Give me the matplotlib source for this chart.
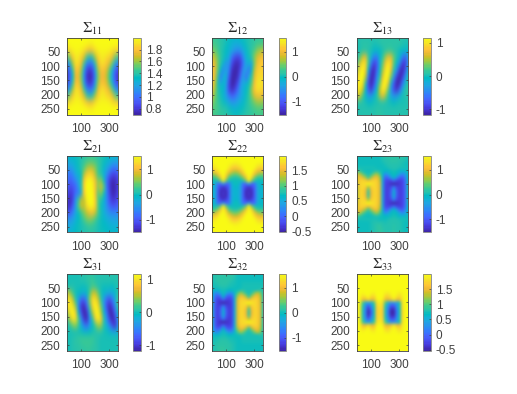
import matplotlib

matplotlib.use("Agg", force=True)

import matplotlib.pyplot as plt
import numpy as np
from matplotlib.colors import LinearSegmentedColormap

plt.rcParams["font.family"] = ["Liberation Sans", "DejaVu Sans"]
plt.rcParams["mathtext.fontset"] = "stix"

WIDTH, HEIGHT = 517, 394

# columns are sampled every 20 along x (0..360), rows evenly along y (0..270)
x_ticks = [100, 300]
y_ticks = [50, 100, 150, 200, 250]

sigma_11 = [
    [2.0, 2.0, 2.0, 2.0, 2.0, 2.0, 2.0, 2.0, 2.0, 2.0, 2.0, 2.0, 2.0, 2.0, 2.0, 2.0, 2.0, 2.0, 2.0],
    [1.97, 2.0, 2.0, 2.0, 2.0, 2.0, 2.0, 1.97, 1.95, 1.95, 1.98, 2.0, 2.0, 2.0, 2.0, 2.0, 2.0, 1.98, 1.97],
    [1.8, 1.88, 1.95, 1.97, 1.97, 1.95, 1.88, 1.8, 1.75, 1.78, 1.88, 1.95, 1.97, 1.97, 1.97, 1.95, 1.88, 1.85, 1.8],
    [1.45, 1.6, 1.8, 1.93, 1.93, 1.85, 1.7, 1.45, 1.35, 1.4, 1.65, 1.85, 1.93, 1.93, 1.88, 1.85, 1.75, 1.55, 1.45],
    [1.05, 1.25, 1.6, 1.88, 1.88, 1.75, 1.45, 1.1, 1.0, 1.05, 1.4, 1.75, 1.88, 1.88, 1.8, 1.7, 1.5, 1.2, 1.05],
    [0.85, 1.0, 1.4, 1.78, 1.78, 1.6, 1.2, 0.85, 0.78, 0.85, 1.2, 1.6, 1.78, 1.78, 1.7, 1.5, 1.25, 0.95, 0.85],
    [0.78, 0.95, 1.3, 1.72, 1.75, 1.55, 1.1, 0.8, 0.72, 0.8, 1.1, 1.55, 1.75, 1.75, 1.65, 1.45, 1.15, 0.9, 0.78],
    [0.85, 1.0, 1.4, 1.78, 1.78, 1.6, 1.2, 0.85, 0.78, 0.85, 1.2, 1.6, 1.78, 1.78, 1.7, 1.5, 1.25, 0.95, 0.85],
    [1.05, 1.25, 1.6, 1.88, 1.88, 1.75, 1.45, 1.1, 1.0, 1.05, 1.4, 1.75, 1.88, 1.88, 1.8, 1.7, 1.5, 1.2, 1.05],
    [1.45, 1.6, 1.8, 1.93, 1.93, 1.85, 1.7, 1.45, 1.35, 1.4, 1.65, 1.85, 1.93, 1.93, 1.88, 1.85, 1.75, 1.55, 1.45],
    [1.8, 1.88, 1.95, 1.97, 1.97, 1.95, 1.88, 1.8, 1.75, 1.78, 1.88, 1.95, 1.97, 1.97, 1.97, 1.95, 1.88, 1.85, 1.8],
    [1.97, 2.0, 2.0, 2.0, 2.0, 2.0, 2.0, 1.97, 1.95, 1.95, 1.98, 2.0, 2.0, 2.0, 2.0, 2.0, 2.0, 1.98, 1.97],
    [2.0, 2.0, 2.0, 2.0, 2.0, 2.0, 2.0, 2.0, 2.0, 2.0, 2.0, 2.0, 2.0, 2.0, 2.0, 2.0, 2.0, 2.0, 2.0],
]
sigma_12 = [
    [0.25, 0.25, 0.2, 0.15, 0.1, 0.05, 0, -0.05, -0.1, -0.1, -0.05, 0, 0.05, 0.1, 0.15, 0.2, 0.2, 0.25, 0.25],
    [0.3, 0.3, 0.25, 0.15, 0.1, 0, -0.1, -0.2, -0.25, -0.25, -0.2, -0.1, 0, 0.1, 0.15, 0.2, 0.3, 0.3, 0.35],
    [0.55, 0.45, 0.3, 0.15, 0.02, -0.05, -0.15, -0.3, -0.5, -0.6, -0.55, -0.3, -0.1, 0.05, 0.2, 0.35, 0.55, 0.65, 0.75],
    [0.85, 0.7, 0.45, 0.2, 0.02, -0.1, -0.3, -0.8, -1.1, -1.2, -1.1, -0.6, -0.2, 0, 0.2, 0.55, 0.85, 1.0, 1.05],
    [1.05, 0.9, 0.5, 0.15, -0.15, -0.55, -0.5, -1.1, -1.4, -1.45, -1.3, -0.8, -0.3, -0.2, -0.35, 0.5, 1.0, 1.15, 1.15],
    [1.15, 0.95, 0.45, -0.05, -0.65, -0.35, -0.7, -1.35, -1.5, -1.45, -1.15, -0.5, -0.35, -0.8, -0.1, 0.75, 1.15, 1.25, 1.2],
    [1.2, 0.9, 0.25, -0.75, -0.3, -0.15, -0.95, -1.45, -1.5, -1.4, -0.9, -0.35, -0.85, -0.3, 0.2, 0.9, 1.25, 1.3, 1.25],
    [1.15, 0.75, 0.05, -0.3, -0.1, -0.4, -1.15, -1.5, -1.45, -1.15, -0.6, -0.3, -0.2, 0, 0.4, 1.05, 1.35, 1.4, 1.3],
    [1.0, 0.6, 0.15, 0, -0.1, -0.5, -1.15, -1.4, -1.25, -0.85, -0.45, -0.2, -0.05, 0.15, 0.6, 1.1, 1.35, 1.3, 1.2],
    [0.8, 0.5, 0.2, 0.05, -0.15, -0.4, -0.75, -0.9, -0.8, -0.6, -0.4, -0.2, 0, 0.2, 0.5, 0.85, 1.0, 1.0, 0.95],
    [0.55, 0.4, 0.25, 0.1, 0, -0.15, -0.3, -0.45, -0.45, -0.35, -0.2, -0.1, 0.05, 0.2, 0.35, 0.5, 0.6, 0.6, 0.55],
    [0.4, 0.35, 0.3, 0.2, 0.15, 0.1, 0, -0.1, -0.15, -0.1, -0.05, 0, 0.1, 0.15, 0.25, 0.3, 0.35, 0.35, 0.35],
    [0.3, 0.3, 0.25, 0.2, 0.2, 0.15, 0.1, 0.05, 0, 0, 0.05, 0.1, 0.15, 0.2, 0.2, 0.25, 0.3, 0.3, 0.3],
]
sigma_13 = [
    [0.05, 0.05, 0.05, 0.05, 0.05, 0.05, 0.05, 0.1, 0.1, 0.1, 0.1, 0.1, 0.1, 0.1, 0.1, 0.1, 0.05, 0.05, 0.05],
    [0, 0.05, 0.1, 0.1, 0.1, 0.05, 0, 0, 0.05, 0.1, 0.1, 0.1, 0.1, 0.1, 0.1, 0.1, 0.05, 0, 0],
    [0, 0.02, 0.1, 0.1, 0.05, 0, -0.05, -0.1, -0.05, 0.02, 0.1, 0.15, 0.15, 0.1, 0.05, -0.02, -0.05, -0.1, -0.05],
    [0, 0.25, 0.6, 0.7, 0.2, -0.15, -0.5, -0.55, -0.1, 0.1, 0.45, 0.7, 0.65, 0.3, 0.05, -0.1, -0.5, -0.75, -0.4],
    [0.2, 0.65, 1.0, 0.95, 0.2, -0.55, -0.95, -0.8, -0.2, 0.25, 0.75, 1.05, 0.85, 0.25, -0.05, -0.45, -0.95, -1.0, -0.4],
    [0.45, 0.95, 1.15, 0.85, -0.1, -0.95, -1.1, -0.7, -0.1, 0.4, 0.95, 1.15, 0.7, 0.05, -0.4, -0.95, -1.15, -0.85, -0.2],
    [0.75, 1.1, 1.15, 0.55, -0.55, -1.1, -1.05, -0.5, 0, 0.65, 1.1, 1.05, 0.35, -0.3, -0.9, -1.15, -1.0, -0.5, 0],
    [0.95, 1.15, 0.95, 0.1, -0.85, -1.15, -0.9, -0.3, 0.25, 0.95, 1.15, 0.75, -0.1, -0.75, -1.15, -1.1, -0.65, -0.15, 0.1],
    [0.95, 1.05, 0.6, -0.1, -0.75, -1.0, -0.55, -0.05, 0.55, 1.05, 0.95, 0.3, -0.4, -0.9, -1.05, -0.75, -0.25, 0.05, 0.15],
    [0.6, 0.6, 0.2, -0.1, -0.35, -0.35, -0.1, 0.1, 0.45, 0.7, 0.45, 0.05, -0.25, -0.4, -0.35, -0.15, 0, 0.05, 0.1],
    [0.1, 0.1, 0.05, 0, -0.05, -0.05, 0, 0.02, 0.05, 0.1, 0.05, 0, -0.02, -0.05, -0.02, 0, 0, 0.03, 0.05],
    [0, 0.05, 0.05, 0.05, 0.05, 0.05, 0.05, 0.1, 0.1, 0.05, 0.05, 0.05, 0.05, 0.05, 0.05, 0.05, 0.05, 0.05, 0.05],
    [0.05, 0.05, 0.05, 0.05, 0.05, 0.05, 0.05, 0.1, 0.1, 0.1, 0.05, 0.05, 0.05, 0.05, 0.05, 0.05, 0.05, 0.05, 0.05],
]
sigma_21 = [
    [-0.1, -0.1, -0.05, 0, 0.05, 0.1, 0.15, 0.2, 0.25, 0.25, 0.2, 0.15, 0.1, 0.05, 0, -0.05, -0.1, -0.15, -0.1],
    [-0.25, -0.2, -0.15, -0.1, 0, 0.1, 0.2, 0.3, 0.35, 0.35, 0.3, 0.2, 0.1, 0, -0.1, -0.2, -0.3, -0.35, -0.3],
    [-0.5, -0.45, -0.35, -0.15, 0, 0.15, 0.35, 0.6, 0.75, 0.7, 0.5, 0.25, 0.1, -0.1, -0.3, -0.5, -0.7, -0.75, -0.65],
    [-0.7, -0.75, -0.6, -0.3, -0.15, 0, 0.65, 1.1, 1.25, 1.1, 0.65, 0.25, 0.1, -0.2, -0.55, -0.95, -1.15, -1.2, -1.0],
    [-0.75, -0.95, -0.8, -0.6, -0.35, 0.05, 1.1, 1.45, 1.52, 1.4, 1.0, 0.5, 0.55, 0, -0.8, -1.25, -1.45, -1.4, -1.2],
    [-0.9, -1.15, -1.05, -0.9, -0.5, 0.1, 1.2, 1.5, 1.54, 1.48, 1.05, 0.5, 0.85, 0.4, -0.7, -1.25, -1.5, -1.45, -1.2],
    [-1.05, -1.3, -1.2, -0.8, -0.7, -0.3, 1.1, 1.48, 1.54, 1.5, 1.05, 0.35, 0.5, 0, -0.6, -1.15, -1.45, -1.4, -1.15],
    [-1.25, -1.45, -1.2, -0.5, 0.2, 0.75, 0.7, 1.4, 1.54, 1.52, 1.15, 0.35, 0.1, -0.15, -0.6, -1.05, -1.3, -1.25, -1.05],
    [-1.3, -1.35, -0.95, -0.45, 0.35, 0.8, 0.75, 1.25, 1.45, 1.45, 1.15, 0.35, 0, -0.2, -0.55, -0.85, -1.0, -1.0, -0.9],
    [-1.05, -0.95, -0.65, -0.3, -0.05, 0.25, 0.5, 0.75, 0.95, 1.0, 0.75, 0.3, 0.05, -0.2, -0.4, -0.55, -0.6, -0.6, -0.6],
    [-0.55, -0.5, -0.4, -0.2, -0.05, 0.1, 0.3, 0.45, 0.5, 0.45, 0.3, 0.1, 0, -0.1, -0.2, -0.3, -0.35, -0.35, -0.35],
    [-0.3, -0.3, -0.2, -0.1, 0, 0.05, 0.1, 0.2, 0.25, 0.2, 0.15, 0.05, 0, -0.05, -0.1, -0.15, -0.2, -0.2, -0.2],
    [-0.15, -0.15, -0.1, -0.05, 0, 0.05, 0.1, 0.1, 0.15, 0.15, 0.1, 0.05, 0, 0, -0.05, -0.1, -0.1, -0.1, -0.1],
]
sigma_22 = [
    [2.0, 2.0, 2.0, 2.0, 2.0, 2.0, 2.0, 2.0, 2.0, 2.0, 2.0, 2.0, 2.0, 2.0, 2.0, 2.0, 2.0, 2.0, 2.0],
    [2.0, 2.0, 2.0, 2.0, 2.0, 2.0, 2.0, 2.0, 2.0, 2.0, 2.0, 2.0, 2.0, 2.0, 2.0, 2.0, 2.0, 2.0, 2.0],
    [1.97, 2.0, 2.0, 2.0, 2.0, 2.0, 2.0, 1.97, 1.95, 1.95, 1.97, 2.0, 2.0, 2.0, 2.0, 2.0, 1.97, 1.97, 1.97],
    [1.9, 1.95, 2.0, 2.0, 2.0, 2.0, 1.95, 1.88, 1.82, 1.85, 1.92, 2.0, 2.0, 2.0, 2.0, 1.97, 1.9, 1.88, 1.88],
    [1.75, 1.85, 1.95, 2.0, 2.0, 1.97, 1.85, 1.7, 1.62, 1.65, 1.8, 1.95, 2.0, 2.0, 2.0, 1.93, 1.78, 1.72, 1.72],
    [1.5, 1.65, 1.8, 1.97, 2.0, 1.92, 1.65, 1.45, 1.35, 1.4, 1.55, 1.8, 1.97, 2.0, 1.97, 1.8, 1.55, 1.45, 1.45],
    [1.2, 1.3, 1.55, 1.85, 2.0, 1.8, 1.35, 1.15, 1.05, 1.1, 1.25, 1.55, 1.85, 2.0, 1.9, 1.55, 1.25, 1.15, 1.15],
    [0.85, 0.95, 1.15, 1.6, 2.0, 1.55, 1.0, 0.85, 0.8, 0.82, 0.95, 1.2, 1.6, 2.0, 1.7, 1.15, 0.9, 0.85, 0.85],
    [0.7, 0.75, 0.8, 1.05, 1.85, 1.05, 0.75, 0.7, 0.7, 0.7, 0.72, 0.8, 1.1, 1.9, 1.15, 0.8, 0.7, 0.7, 0.7],
    [0.65, 0.6, 0.05, 0, 0.3, 0, 0.05, 0.55, 0.7, 0.7, 0.5, 0.05, 0, 0.4, 0, 0.05, 0.5, 0.65, 0.65],
    [0.65, 0.55, -0.05, -0.3, -0.4, -0.3, -0.05, 0.5, 0.65, 0.65, 0.45, -0.05, -0.3, -0.4, -0.3, -0.05, 0.45, 0.65, 0.65],
    [0.6, 0.55, -0.1, -0.45, -0.45, -0.45, -0.1, 0.5, 0.6, 0.6, 0.45, -0.1, -0.45, -0.45, -0.45, -0.1, 0.45, 0.6, 0.6],
    [0.6, 0.55, -0.1, -0.5, -0.35, -0.5, -0.1, 0.5, 0.6, 0.6, 0.45, -0.1, -0.5, -0.35, -0.5, -0.1, 0.45, 0.6, 0.6],
    [0.6, 0.55, -0.1, -0.45, -0.45, -0.45, -0.1, 0.5, 0.6, 0.6, 0.45, -0.1, -0.45, -0.45, -0.45, -0.1, 0.45, 0.6, 0.6],
    [0.65, 0.55, -0.05, -0.3, -0.4, -0.3, -0.05, 0.5, 0.65, 0.65, 0.45, -0.05, -0.3, -0.4, -0.3, -0.05, 0.45, 0.65, 0.65],
    [0.65, 0.6, 0.05, 0, 0.3, 0, 0.05, 0.55, 0.7, 0.7, 0.5, 0.05, 0, 0.4, 0, 0.05, 0.5, 0.65, 0.65],
    [0.7, 0.75, 0.8, 1.05, 1.85, 1.05, 0.75, 0.7, 0.7, 0.7, 0.72, 0.8, 1.1, 1.9, 1.15, 0.8, 0.7, 0.7, 0.7],
    [0.85, 0.95, 1.15, 1.6, 2.0, 1.55, 1.0, 0.85, 0.8, 0.82, 0.95, 1.2, 1.6, 2.0, 1.7, 1.15, 0.9, 0.85, 0.85],
    [1.2, 1.3, 1.55, 1.85, 2.0, 1.8, 1.35, 1.15, 1.05, 1.1, 1.25, 1.55, 1.85, 2.0, 1.9, 1.55, 1.25, 1.15, 1.15],
    [1.5, 1.65, 1.8, 1.97, 2.0, 1.92, 1.65, 1.45, 1.35, 1.4, 1.55, 1.8, 1.97, 2.0, 1.97, 1.8, 1.55, 1.45, 1.45],
    [1.75, 1.85, 1.95, 2.0, 2.0, 1.97, 1.85, 1.7, 1.62, 1.65, 1.8, 1.95, 2.0, 2.0, 2.0, 1.93, 1.78, 1.72, 1.72],
    [1.9, 1.95, 2.0, 2.0, 2.0, 2.0, 1.95, 1.88, 1.82, 1.85, 1.92, 2.0, 2.0, 2.0, 2.0, 1.97, 1.9, 1.88, 1.88],
    [1.97, 2.0, 2.0, 2.0, 2.0, 2.0, 2.0, 1.97, 1.95, 1.95, 1.97, 2.0, 2.0, 2.0, 2.0, 2.0, 1.97, 1.97, 1.97],
    [2.0, 2.0, 2.0, 2.0, 2.0, 2.0, 2.0, 2.0, 2.0, 2.0, 2.0, 2.0, 2.0, 2.0, 2.0, 2.0, 2.0, 2.0, 2.0],
    [2.0, 2.0, 2.0, 2.0, 2.0, 2.0, 2.0, 2.0, 2.0, 2.0, 2.0, 2.0, 2.0, 2.0, 2.0, 2.0, 2.0, 2.0, 2.0],
]
sigma_23 = [
    [0, 0, 0, 0, 0, 0, 0, 0, 0, 0.1, 0.15, 0.15, 0.15, 0.15, 0.15, 0.15, 0.15, 0.1, 0.05],
    [0, 0, 0, 0, 0, 0, 0, 0, 0, 0.08, 0.12, 0.15, 0.15, 0.15, 0.15, 0.15, 0.12, 0.08, 0.03],
    [0, 0, 0, 0, 0, 0, 0, 0, 0, 0.05, 0.1, 0.12, 0.15, 0.15, 0.15, 0.12, 0.1, 0.05, 0],
    [0.02, 0.02, 0.02, 0.02, 0.02, 0.02, 0.02, 0, 0, 0.02, 0.05, 0.1, 0.12, 0.12, 0.12, 0.1, 0.05, 0.02, 0],
    [0.05, 0.05, 0.05, 0.05, 0.05, 0.05, 0.05, 0, -0.02, 0, 0.02, 0.05, 0.1, 0.1, 0.1, 0.05, 0.03, 0.03, 0],
    [0.25, 0.2, 0.05, 0.02, 0.02, 0.02, 0.05, 0.1, 0.05, 0, -0.05, -0.1, -0.02, 0.05, -0.02, -0.1, -0.15, -0.1, 0],
    [0.8, 0.8, 0.45, 0.15, 0.05, 0.15, 0.5, 0.7, 0.35, -0.1, -0.6, -0.35, -0.05, 0, -0.05, -0.35, -0.65, -0.45, -0.05],
    [0.9, 1.05, 0.9, 0.65, 0.2, 0.65, 0.95, 1.0, 0.7, -0.15, -0.95, -0.85, -0.45, -0.05, -0.5, -0.9, -1.0, -0.7, -0.05],
    [0.85, 1.2, 1.25, 1.15, 0.95, 1.15, 1.25, 1.2, 0.85, -0.25, -1.15, -1.2, -1.15, -0.85, -1.15, -1.25, -1.2, -0.85, -0.05],
    [0.8, 1.2, 1.3, 1.35, 1.55, 1.4, 1.3, 1.2, 0.9, -0.3, -1.2, -1.25, -1.4, -1.53, -1.4, -1.3, -1.2, -0.9, 0],
    [0.75, 1.2, 1.3, 1.15, 0.7, 1.15, 1.3, 1.2, 0.9, -0.3, -1.2, -1.25, -1.15, -0.75, -1.15, -1.25, -1.2, -0.9, 0],
    [0.7, 1.2, 1.25, 1.0, 0.25, 1.0, 1.25, 1.2, 0.9, -0.3, -1.2, -1.25, -1.0, -0.2, -1.0, -1.25, -1.2, -0.9, 0],
    [0.7, 1.2, 1.25, 0.95, 0.15, 0.95, 1.25, 1.2, 0.9, -0.3, -1.2, -1.25, -0.95, -0.1, -0.95, -1.25, -1.2, -0.9, 0],
    [0.7, 1.2, 1.25, 1.0, 0.25, 1.0, 1.25, 1.2, 0.9, -0.3, -1.2, -1.25, -1.0, -0.2, -1.0, -1.25, -1.2, -0.9, 0],
    [0.75, 1.2, 1.3, 1.15, 0.7, 1.15, 1.3, 1.2, 0.9, -0.3, -1.2, -1.25, -1.15, -0.75, -1.15, -1.25, -1.2, -0.9, 0],
    [0.8, 1.2, 1.3, 1.35, 1.55, 1.4, 1.3, 1.2, 0.9, -0.3, -1.2, -1.25, -1.4, -1.53, -1.4, -1.3, -1.2, -0.9, 0],
    [0.85, 1.2, 1.25, 1.15, 0.95, 1.15, 1.25, 1.2, 0.85, -0.25, -1.15, -1.2, -1.15, -0.85, -1.15, -1.25, -1.2, -0.85, -0.05],
    [0.9, 1.05, 0.9, 0.65, 0.2, 0.65, 0.95, 1.0, 0.7, -0.15, -0.95, -0.85, -0.45, -0.05, -0.5, -0.9, -1.0, -0.7, -0.05],
    [0.8, 0.8, 0.45, 0.15, 0.05, 0.15, 0.5, 0.7, 0.35, -0.1, -0.6, -0.35, -0.05, 0, -0.05, -0.35, -0.65, -0.45, -0.05],
    [0.25, 0.2, 0.05, 0.02, 0.02, 0.02, 0.05, 0.1, 0.05, 0, -0.05, -0.1, -0.02, 0.05, -0.02, -0.1, -0.15, -0.1, 0],
    [0.05, 0.05, 0.05, 0.05, 0.05, 0.05, 0.05, 0.03, 0, 0, 0.02, 0.05, 0.1, 0.1, 0.1, 0.05, 0.03, 0.03, 0],
    [0.02, 0.02, 0.02, 0.02, 0.02, 0.05, 0.08, 0.1, 0.12, 0.08, 0.05, 0.08, 0.12, 0.12, 0.12, 0.08, 0.05, 0.02, 0],
    [0, 0, 0, 0, 0, 0.05, 0.1, 0.15, 0.18, 0.12, 0.08, 0.1, 0.12, 0.15, 0.12, 0.1, 0.05, 0, 0],
    [0, 0, 0, 0, 0, 0.05, 0.1, 0.15, 0.2, 0.15, 0.1, 0.1, 0.12, 0.15, 0.12, 0.1, 0.05, 0, 0],
    [0, 0, 0, 0, 0, 0.05, 0.1, 0.15, 0.2, 0.15, 0.1, 0.1, 0.12, 0.15, 0.12, 0.1, 0.05, 0, 0],
]
sigma_31 = [
    [0, 0, 0, 0, 0.02, 0.05, 0.05, 0.08, 0.1, 0.1, 0.05, 0.05, 0.05, 0.05, 0.05, 0.05, 0.05, 0.05, 0.05],
    [0, 0, 0, 0.02, 0.02, 0.05, 0.05, 0.08, 0.12, 0.15, 0.1, 0.05, 0.05, 0.05, 0.05, 0.05, 0.05, 0.05, 0.05],
    [0.02, 0.02, 0.05, 0.02, 0, -0.02, -0.02, 0, 0.1, 0.2, 0.15, 0.05, 0, -0.02, -0.02, -0.02, -0.05, 0, 0.02],
    [0.65, 0.5, 0.2, 0, -0.05, -0.1, -0.15, -0.05, 0.25, 0.6, 0.6, 0.3, 0, -0.1, -0.15, -0.25, -0.2, -0.1, 0.1],
    [1.0, 1.0, 0.6, 0.1, -0.3, -0.7, -0.75, -0.4, 0.4, 0.95, 1.0, 0.6, 0.1, -0.35, -0.7, -0.85, -0.6, -0.2, 0.2],
    [0.85, 1.1, 1.0, 0.4, -0.4, -1.0, -1.1, -0.7, 0.2, 0.85, 1.15, 0.9, 0.3, -0.3, -0.85, -1.1, -0.9, -0.4, 0.15],
    [0.45, 0.95, 1.15, 0.85, -0.05, -0.85, -1.15, -1.05, -0.2, 0.5, 1.05, 1.1, 0.5, -0.1, -0.6, -1.1, -1.1, -0.7, -0.05],
    [0.1, 0.55, 1.0, 1.0, 0.3, -0.45, -1.0, -1.1, -0.5, 0.1, 0.8, 1.1, 0.8, 0.1, -0.4, -0.9, -1.15, -0.95, -0.3],
    [0, 0.1, 0.3, 0.4, 0.15, -0.15, -0.5, -0.65, -0.35, -0.05, 0.2, 0.45, 0.4, 0.05, -0.15, -0.5, -0.85, -1.05, -0.45],
    [0, 0, 0.03, 0.03, 0, -0.03, -0.08, -0.1, -0.05, 0, 0.05, 0.1, 0.1, 0.03, -0.02, -0.1, -0.2, -0.25, -0.1],
    [0, 0.02, 0.05, 0.1, 0.12, 0.15, 0.15, 0.18, 0.18, 0.15, 0.1, 0.05, 0.03, 0.02, 0, 0, 0, 0, 0],
    [0, 0.02, 0.05, 0.08, 0.1, 0.12, 0.15, 0.15, 0.15, 0.12, 0.08, 0.05, 0.03, 0.02, 0, 0, 0, 0, 0],
    [0.02, 0.02, 0.05, 0.05, 0.08, 0.1, 0.1, 0.12, 0.12, 0.1, 0.08, 0.05, 0.03, 0.02, 0, 0, 0, 0, 0],
]
sigma_32 = [
    [0.05, 0.1, 0.15, 0.15, 0.15, 0.15, 0.15, 0.15, 0.1, 0, 0, 0, 0, 0, 0, 0, 0, 0, 0],
    [0.05, 0.1, 0.15, 0.15, 0.15, 0.15, 0.15, 0.12, 0.08, 0, 0, 0, 0, 0, 0, 0, 0, 0, 0],
    [0.05, 0.1, 0.12, 0.15, 0.15, 0.15, 0.12, 0.1, 0.05, 0, 0, 0, 0, 0, 0, 0, 0, 0, 0],
    [0.02, 0.05, 0.1, 0.12, 0.12, 0.12, 0.1, 0.05, 0.02, 0, 0, 0.02, 0.02, 0.02, 0.02, 0.02, 0.02, 0.02, 0.02],
    [0, 0.03, 0.05, 0.1, 0.1, 0.1, 0.05, 0.03, 0, -0.02, 0, 0.05, 0.05, 0.05, 0.05, 0.05, 0.05, 0.05, 0.05],
    [0, -0.1, -0.1, -0.03, 0.03, -0.03, -0.08, -0.08, -0.02, 0, 0.02, 0.08, 0.05, 0.02, 0.02, 0.02, 0.05, 0.15, 0.1],
    [-0.1, -0.6, -0.65, -0.25, 0, -0.25, -0.6, -0.55, -0.1, 0.3, 0.65, 0.45, 0.15, 0.05, 0.15, 0.5, 0.8, 0.55, 0.05],
    [-0.05, -0.8, -1.05, -0.85, -0.05, -0.85, -1.05, -0.95, -0.2, 0.6, 1.0, 1.0, 0.65, 0.1, 0.65, 1.0, 1.05, 0.75, 0.1],
    [0, -0.9, -1.25, -1.2, -0.9, -1.2, -1.25, -1.15, -0.2, 0.85, 1.2, 1.25, 1.15, 0.95, 1.15, 1.25, 1.2, 0.85, 0.1],
    [0, -0.95, -1.25, -1.4, -1.5, -1.4, -1.3, -1.2, -0.25, 0.9, 1.25, 1.3, 1.4, 1.53, 1.4, 1.3, 1.2, 0.9, 0.1],
    [0, -0.95, -1.25, -1.15, -0.75, -1.15, -1.3, -1.2, -0.25, 0.9, 1.25, 1.3, 1.15, 0.75, 1.15, 1.3, 1.2, 0.9, 0.1],
    [0, -0.95, -1.25, -1.0, -0.2, -1.0, -1.25, -1.2, -0.25, 0.9, 1.25, 1.25, 1.0, 0.25, 1.0, 1.25, 1.2, 0.9, 0.1],
    [0, -0.95, -1.25, -0.95, -0.1, -0.95, -1.25, -1.2, -0.25, 0.9, 1.25, 1.25, 0.95, 0.15, 0.95, 1.25, 1.2, 0.9, 0.1],
    [0, -0.95, -1.25, -1.0, -0.2, -1.0, -1.25, -1.2, -0.25, 0.9, 1.25, 1.25, 1.0, 0.25, 1.0, 1.25, 1.2, 0.9, 0.1],
    [0, -0.95, -1.25, -1.15, -0.75, -1.15, -1.3, -1.2, -0.25, 0.9, 1.25, 1.3, 1.15, 0.75, 1.15, 1.3, 1.2, 0.9, 0.1],
    [0, -0.95, -1.25, -1.4, -1.5, -1.4, -1.3, -1.2, -0.25, 0.9, 1.25, 1.3, 1.4, 1.53, 1.4, 1.3, 1.2, 0.9, 0.1],
    [0, -0.9, -1.25, -1.2, -0.9, -1.2, -1.25, -1.15, -0.2, 0.85, 1.2, 1.25, 1.15, 0.95, 1.15, 1.25, 1.2, 0.85, 0.1],
    [-0.05, -0.8, -1.05, -0.85, -0.05, -0.85, -1.05, -0.95, -0.2, 0.6, 1.0, 1.0, 0.65, 0.1, 0.65, 1.0, 1.05, 0.75, 0.1],
    [-0.1, -0.6, -0.65, -0.25, 0, -0.25, -0.6, -0.55, -0.1, 0.3, 0.65, 0.45, 0.15, 0.05, 0.15, 0.5, 0.8, 0.55, 0.05],
    [0, -0.1, -0.1, -0.03, 0.03, -0.03, -0.08, -0.08, -0.02, 0, 0.02, 0.08, 0.05, 0.02, 0.02, 0.02, 0.05, 0.15, 0.1],
    [0, 0.03, 0.05, 0.1, 0.1, 0.1, 0.05, 0.03, 0, -0.02, 0, 0.05, 0.05, 0.05, 0.05, 0.05, 0.05, 0.05, 0.05],
    [0.02, 0.05, 0.1, 0.12, 0.12, 0.12, 0.1, 0.05, 0.02, 0, 0, 0.02, 0.02, 0.02, 0.02, 0.02, 0.02, 0.02, 0.02],
    [0.05, 0.1, 0.15, 0.15, 0.15, 0.15, 0.12, 0.1, 0.05, 0, 0, 0, 0, 0, 0, 0, 0, 0, 0],
    [0.05, 0.1, 0.15, 0.2, 0.2, 0.15, 0.15, 0.1, 0.05, 0, 0, 0, 0, 0, 0, 0, 0, 0, 0],
    [0.05, 0.1, 0.15, 0.2, 0.2, 0.15, 0.15, 0.1, 0.05, 0, 0, 0, 0, 0, 0, 0, 0, 0, 0],
]
sigma_33 = [
    [2.0, 2.0, 2.0, 2.0, 2.0, 2.0, 2.0, 2.0, 2.0, 2.0, 2.0, 2.0, 2.0, 2.0, 2.0, 2.0, 2.0, 2.0, 2.0],
    [2.0, 2.0, 2.0, 2.0, 2.0, 2.0, 2.0, 2.0, 2.0, 2.0, 2.0, 2.0, 2.0, 2.0, 2.0, 2.0, 2.0, 2.0, 2.0],
    [2.0, 2.0, 2.0, 2.0, 2.0, 2.0, 2.0, 2.0, 2.0, 2.0, 2.0, 2.0, 2.0, 2.0, 2.0, 2.0, 2.0, 2.0, 2.0],
    [2.0, 2.0, 2.0, 2.0, 2.0, 2.0, 2.0, 2.0, 2.0, 2.0, 2.0, 2.0, 2.0, 2.0, 2.0, 2.0, 2.0, 2.0, 2.0],
    [2.0, 2.0, 2.0, 2.0, 2.0, 2.0, 2.0, 2.0, 2.0, 2.0, 2.0, 2.0, 2.0, 2.0, 2.0, 2.0, 2.0, 2.0, 2.0],
    [2.0, 2.0, 1.98, 1.98, 2.0, 1.98, 1.98, 2.0, 2.0, 2.0, 1.98, 1.97, 1.98, 2.0, 1.98, 1.97, 1.98, 2.0, 2.0],
    [2.0, 2.0, 1.93, 1.97, 2.0, 1.93, 1.9, 2.0, 2.0, 2.0, 1.92, 1.88, 1.95, 2.0, 1.95, 1.88, 1.95, 2.0, 2.0],
    [2.0, 1.98, 1.8, 1.85, 1.97, 1.8, 1.75, 1.97, 2.0, 1.97, 1.75, 1.72, 1.85, 1.97, 1.85, 1.75, 1.9, 2.0, 2.0],
    [2.0, 1.95, 1.55, 1.5, 1.75, 1.5, 1.5, 1.9, 1.97, 1.9, 1.5, 1.45, 1.55, 1.85, 1.55, 1.5, 1.85, 2.0, 2.0],
    [2.0, 1.9, 1.0, 0.55, 0.4, 0.55, 0.9, 1.8, 1.9, 1.8, 1.0, 0.55, 0.3, 0.3, 0.4, 0.7, 1.8, 2.0, 2.0],
    [2.0, 1.85, 0.85, 0.3, -0.15, 0.3, 0.75, 1.7, 1.85, 1.7, 0.8, 0.3, -0.15, -0.15, 0.3, 0.75, 1.8, 2.0, 2.0],
    [2.0, 1.85, 0.8, 0.2, -0.45, 0.05, 0.7, 1.65, 1.82, 1.65, 0.75, 0.15, -0.45, -0.45, 0.15, 0.7, 1.75, 2.0, 2.0],
    [2.0, 1.85, 0.8, 0.15, -0.5, -0.1, 0.7, 1.65, 1.8, 1.65, 0.75, 0.1, -0.5, -0.5, 0.1, 0.7, 1.75, 2.0, 2.0],
    [2.0, 1.85, 0.8, 0.2, -0.45, 0.05, 0.7, 1.65, 1.82, 1.65, 0.75, 0.15, -0.45, -0.45, 0.15, 0.7, 1.75, 2.0, 2.0],
    [2.0, 1.85, 0.85, 0.3, -0.15, 0.3, 0.75, 1.7, 1.85, 1.7, 0.8, 0.3, -0.15, -0.15, 0.3, 0.75, 1.8, 2.0, 2.0],
    [2.0, 1.9, 1.0, 0.55, 0.4, 0.55, 0.9, 1.8, 1.9, 1.8, 1.0, 0.55, 0.3, 0.3, 0.4, 0.7, 1.8, 2.0, 2.0],
    [2.0, 1.95, 1.55, 1.5, 1.75, 1.5, 1.5, 1.9, 1.97, 1.9, 1.5, 1.45, 1.55, 1.85, 1.55, 1.5, 1.85, 2.0, 2.0],
    [2.0, 1.98, 1.8, 1.85, 1.97, 1.8, 1.75, 1.97, 2.0, 1.97, 1.75, 1.72, 1.85, 1.97, 1.85, 1.75, 1.9, 2.0, 2.0],
    [2.0, 2.0, 1.93, 1.97, 2.0, 1.93, 1.9, 2.0, 2.0, 2.0, 1.92, 1.88, 1.95, 2.0, 1.95, 1.88, 1.95, 2.0, 2.0],
    [2.0, 2.0, 1.98, 1.98, 2.0, 1.98, 1.98, 2.0, 2.0, 2.0, 1.98, 1.97, 1.98, 2.0, 1.98, 1.97, 1.98, 2.0, 2.0],
    [2.0, 2.0, 2.0, 2.0, 2.0, 2.0, 2.0, 2.0, 2.0, 2.0, 2.0, 2.0, 2.0, 2.0, 2.0, 2.0, 2.0, 2.0, 2.0],
    [2.0, 2.0, 2.0, 2.0, 2.0, 2.0, 2.0, 2.0, 2.0, 2.0, 2.0, 2.0, 2.0, 2.0, 2.0, 2.0, 2.0, 2.0, 2.0],
    [2.0, 2.0, 2.0, 2.0, 2.0, 2.0, 2.0, 2.0, 2.0, 2.0, 2.0, 2.0, 2.0, 2.0, 2.0, 2.0, 2.0, 2.0, 2.0],
    [2.0, 2.0, 2.0, 2.0, 2.0, 2.0, 2.0, 2.0, 2.0, 2.0, 2.0, 2.0, 2.0, 2.0, 2.0, 2.0, 2.0, 2.0, 2.0],
    [2.0, 2.0, 2.0, 2.0, 2.0, 2.0, 2.0, 2.0, 2.0, 2.0, 2.0, 2.0, 2.0, 2.0, 2.0, 2.0, 2.0, 2.0, 2.0],
]

titles = [r"$\Sigma_{11}$", r"$\Sigma_{12}$", r"$\Sigma_{13}$",
          r"$\Sigma_{21}$", r"$\Sigma_{22}$", r"$\Sigma_{23}$",
          r"$\Sigma_{31}$", r"$\Sigma_{32}$", r"$\Sigma_{33}$"]
panels = [sigma_11, sigma_12, sigma_13, sigma_21, sigma_22, sigma_23, sigma_31, sigma_32, sigma_33]
color_limits = [(0.70, 2.0), (-1.52, 1.56), (-1.16, 1.15),
                (-1.50, 1.54), (-0.54, 2.0), (-1.53, 1.58),
                (-1.16, 1.16), (-1.52, 1.55), (-0.53, 2.0)]
color_ticks = [[0.8, 1, 1.2, 1.4, 1.6, 1.8], [-1, 0, 1], [-1, 0, 1],
               [-1, 0, 1], [-0.5, 0, 0.5, 1, 1.5], [-1, 0, 1],
               [-1, 0, 1], [-1, 0, 1], [-0.5, 0, 0.5, 1, 1.5]]

# parula (newer table), every third entry
parula_anchors = [
    (0.2422, 0.1504, 0.6603), (0.2647, 0.1978, 0.7952), (0.2783, 0.2559, 0.8991),
    (0.2810, 0.3228, 0.9579), (0.2699, 0.3892, 0.9906), (0.2206, 0.4603, 0.9973),
    (0.1786, 0.5289, 0.9682), (0.1540, 0.5902, 0.9218), (0.1248, 0.6459, 0.8883),
    (0.0689, 0.6948, 0.8394), (0.0067, 0.7312, 0.7660), (0.1408, 0.7584, 0.6842),
    (0.2161, 0.7843, 0.5923), (0.3406, 0.8008, 0.4789), (0.5044, 0.7993, 0.3480),
    (0.6720, 0.7793, 0.2227), (0.8203, 0.7498, 0.1535), (0.9393, 0.7288, 0.2100),
    (0.9970, 0.7659, 0.2199), (0.9786, 0.8386, 0.1766), (0.9597, 0.9135, 0.1423),
    (0.9769, 0.9839, 0.0805),
]
parula = LinearSegmentedColormap.from_list("parula", parula_anchors, N=64)

# pixel boxes: left, right per column, top, bottom per row
col_lefts = [67.3, 212.3, 356.7]
col_rights = [117.7, 262.7, 407.7]
bar_lefts = [133.0, 278.7, 423.3]
bar_rights = [140.7, 286.3, 430.7]
row_tops = [37.7, 155.7, 274.0]
row_bottoms = [114.7, 232.3, 350.7]

GREY = "#404040"
TEXT = "#404040"
FONT_SIZE = 8.5


def box(left, right, top, bottom):
    return [left / WIDTH, 1 - bottom / HEIGHT, (right - left) / WIDTH, (bottom - top) / HEIGHT]


fig = plt.figure(figsize=(WIDTH / 100, HEIGHT / 100), dpi=100)

for index, values in enumerate(panels):
    row, col = divmod(index, 3)
    low, high = color_limits[index]
    grid = np.array(values, dtype=float)
    half_y = 135 / (grid.shape[0] - 1)
    axis = fig.add_axes(box(col_lefts[col], col_rights[col], row_tops[row], row_bottoms[row]))
    image = axis.imshow(
        grid,
        cmap=parula,
        vmin=low,
        vmax=high,
        aspect="auto",
        interpolation="bicubic",
        extent=[-10, 370, 270 + half_y, -half_y],
    )
    axis.set_xlim(0, 360)
    axis.set_ylim(270, 0)
    axis.set_xticks(x_ticks)
    axis.set_yticks(y_ticks)
    axis.tick_params(direction="in", length=1.5, width=0.5, color=GREY, labelcolor=TEXT,
                     labelsize=FONT_SIZE, top=True, right=True, pad=5)
    axis.tick_params(axis="x", pad=6.2)
    for spine in axis.spines.values():
        spine.set_linewidth(0.6)
        spine.set_color(GREY)
    axis.set_title(titles[index], fontsize=10.5, pad=3.5, color="#262626")

    bar_axis = fig.add_axes(box(bar_lefts[col], bar_rights[col], row_tops[row], row_bottoms[row]))
    colorbar = fig.colorbar(image, cax=bar_axis)
    colorbar.set_ticks(color_ticks[index])
    colorbar.set_ticklabels([f"{tick:g}" for tick in color_ticks[index]])
    colorbar.ax.tick_params(direction="in", length=1.5, width=0.5, color=GREY, labelcolor=TEXT,
                            labelsize=FONT_SIZE, pad=3.5)
    colorbar.outline.set_linewidth(0.6)
    colorbar.outline.set_edgecolor("#808080")

fig.savefig("out.png", dpi=100)
plt.close(fig)
